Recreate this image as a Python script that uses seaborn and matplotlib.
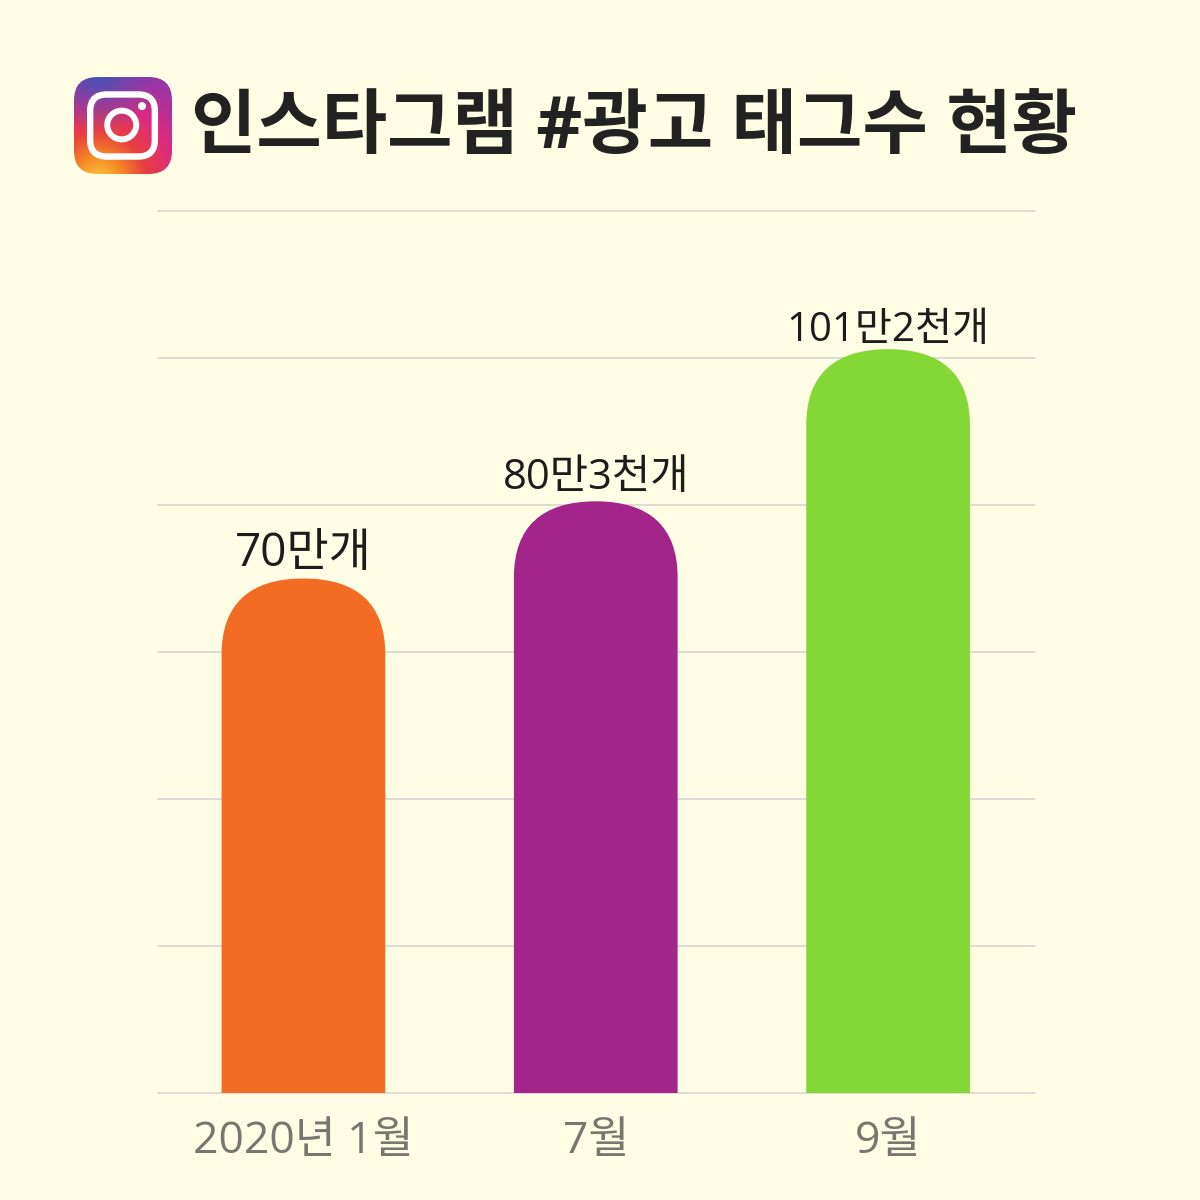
import matplotlib
matplotlib.use('Agg')
import matplotlib.pyplot as plt
import numpy as np
import pandas as pd
import seaborn as sns
from matplotlib.colors import LinearSegmentedColormap
from matplotlib.patches import Circle, FancyBboxPatch, PathPatch
from matplotlib.path import Path

months = ['2020년 1월', '7월', '9월']
tag_counts = [70, 80.5, 101.2]
value_labels = ['70만개', '80만3천개', '101만2천개']
bar_colors = ['#F36C24', '#A3248B', '#84D835']
y_grid = [0, 20, 40, 60, 80, 100, 120]
label_gaps = [1, 2, -1]
label_sizes = [33, 30, 29]

BG = '#FFFDE3'
FONT = ['Open Sans', 'Noto Sans CJK KR', 'DejaVu Sans']

sns.set_theme(style='whitegrid')
plt.rcParams['font.family'] = FONT


def round_bar_tops(ax, ry_px=76):
    # swap each seaborn bar for a patch of the same size with a rounded top
    box = ax.get_window_extent()
    y0, y1 = ax.get_ylim()
    ry = ry_px * (y1 - y0) / box.height
    k = 0.66
    for bar in ax.patches[:]:
        l, w, h = bar.get_x(), bar.get_width(), bar.get_height()
        r = l + w
        rx = w / 2
        verts = [(l, 0), (l, h - ry),
                 (l, h - ry + k * ry), (l + rx - k * rx, h), (l + rx, h),
                 (l + rx + k * rx, h), (r, h - ry + k * ry), (r, h - ry),
                 (r, 0), (l, 0)]
        codes = [Path.MOVETO, Path.LINETO,
                 Path.CURVE4, Path.CURVE4, Path.CURVE4,
                 Path.CURVE4, Path.CURVE4, Path.CURVE4,
                 Path.LINETO, Path.CLOSEPOLY]
        ax.add_patch(PathPatch(Path(verts, codes), fc=bar.get_facecolor(), ec='none', zorder=3))
        bar.set_visible(False)


def draw_logo(fig):
    # instagram logo, x 74-172 y 77-174 in pixels
    ax = fig.add_axes([74 / 1200, 1 - 174 / 1200, 98 / 1200, 97 / 1200])
    ax.set_xlim(0, 1)
    ax.set_ylim(0, 1)
    ax.axis('off')
    xx, yy = np.meshgrid(np.linspace(0, 1, 200), np.linspace(0, 1, 200))
    dist = np.hypot(xx - 0.25, yy + 0.05)
    cmap = LinearSegmentedColormap.from_list(
        'insta', [(0, '#FBC640'), (0.2, '#F58A24'), (0.42, '#E8403F'),
                  (0.68, '#DC2A80'), (1, '#9A35A5')])
    rgb = cmap(np.clip(dist / 1.15, 0, 1))[:, :, :3]
    blue = np.clip(1 - np.hypot(xx - 0.25, yy - 1.05) / 0.62, 0, 1)[:, :, None]
    rgb = rgb * (1 - blue) + np.array([0.25, 0.33, 0.72]) * blue
    img = ax.imshow(rgb, origin='lower', extent=(0, 1, 0, 1), aspect='auto', interpolation='bilinear')
    clip = FancyBboxPatch((0.0, 0.0), 1, 1, boxstyle='round,pad=0,rounding_size=0.24',
                          transform=ax.transData, fc='none', ec='none')
    ax.add_patch(clip)
    img.set_clip_path(clip)
    ax.add_patch(FancyBboxPatch((0.165, 0.18), 0.66, 0.64, boxstyle='round,pad=0,rounding_size=0.17',
                                fc='none', ec='white', lw=4.6))
    ax.add_patch(Circle((0.487, 0.505), 0.148, fc='none', ec='white', lw=4.3))
    ax.add_patch(Circle((0.694, 0.70), 0.041, fc='white', ec='none'))


df = pd.DataFrame({'month': months, 'count': tag_counts})

fig = plt.figure(figsize=(12, 12), dpi=100, facecolor=BG)
ax = fig.add_axes([158 / 1200, 1 - 1093 / 1200, 877 / 1200, 882 / 1200], facecolor=BG)

sns.barplot(data=df, x='month', y='count', hue='month', palette=bar_colors,
            legend=False, width=0.56, saturation=1, ax=ax, zorder=3)
ax.set_xlim(-0.4975, 2.5025)
ax.set_ylim(0, 120)
ax.set_yticks(y_grid)
ax.set_xlabel('')
ax.set_ylabel('')
ax.tick_params(axis='y', labelleft=False, length=0)
ax.tick_params(axis='x', length=0, pad=19, labelsize=32, labelcolor='#777772')
ax.grid(axis='y', color='#D6D6D2', lw=1.2)
ax.grid(axis='x', visible=False)
sns.despine(ax=ax, left=True, right=True, top=True, bottom=True)
for gl in ax.get_ygridlines():
    gl.set_clip_on(False)

round_bar_tops(ax)

for i, (val, label, gap, size) in enumerate(zip(tag_counts, value_labels, label_gaps, label_sizes)):
    ax.annotate(label, (i, val), xytext=(0, gap), textcoords='offset points',
                ha='center', va='bottom', fontsize=size, color='#1C1C1C', zorder=5)

fig.text(191 / 1200, 1 - 129 / 1200, '인스타그램 #광고 태그수 현황', fontsize=51.2, fontweight='bold',
         color='#222222', ha='left', va='center')

draw_logo(fig)

fig.savefig('out.png', dpi=100, facecolor=BG)
